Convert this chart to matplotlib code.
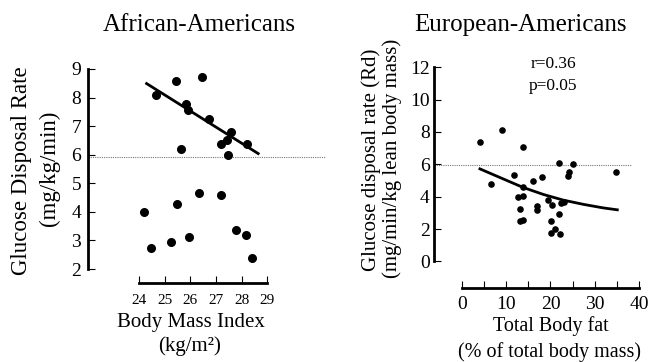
import matplotlib
matplotlib.use('Agg')
import matplotlib.pyplot as plt
import numpy as np

plt.rcParams['font.family'] = ['Liberation Serif', 'DejaVu Serif']

# African-Americans: BMI vs glucose disposal rate
aa_bmi = [24.64, 25.44, 26.45, 25.84, 25.91, 26.74, 27.60, 27.43, 27.18, 28.23, 25.62, 27.48,
          24.17, 25.48, 26.32, 27.18, 24.46, 25.25, 25.93, 27.79, 28.19, 28.41]
aa_gdr = [8.08, 8.57, 8.73, 7.78, 7.57, 7.25, 6.81, 6.50, 6.39, 6.38, 6.19, 5.98,
          4.01, 4.29, 4.66, 4.60, 2.75, 2.95, 3.13, 3.35, 3.19, 2.40]
aa_fit_x = [24.29, 28.65]
aa_fit_y = [8.49, 6.04]
aa_cutoff = 5.92

# European-Americans: total body fat vs Rd
ea_fat = [4.07, 9.04, 13.8, 6.48, 11.68, 13.71, 15.97, 18.15, 21.9, 25.16, 24.1, 23.95, 34.8,
          12.73, 13.8, 13.1, 17.0, 17.0, 19.5, 20.3, 22.4, 23.05, 21.85, 13.18, 13.8,
          20.18, 20.18, 21.1, 22.2]
ea_rd = [7.41, 8.14, 7.08, 4.79, 5.34, 4.59, 4.99, 5.22, 6.07, 6.01, 5.54, 5.26, 5.52,
         3.98, 4.06, 3.27, 3.45, 3.17, 3.82, 3.51, 3.59, 3.69, 2.96, 2.48, 2.58,
         2.52, 1.78, 1.99, 1.69]
ea_fit_x = [4.07, 9.33, 13.85, 18.4, 22.9, 27.4, 31.9, 35.1]
ea_fit_y = [5.72, 5.10, 4.57, 4.14, 3.79, 3.53, 3.31, 3.19]
ea_cutoff = 5.95

W, H = 651, 362
fig = plt.figure(figsize=(W / 100, H / 100), dpi=100)


def box(x0, x1, ytop, ybot):
    # pixel box -> figure fraction
    return [x0 / W, 1 - ybot / H, (x1 - x0) / W, (ybot - ytop) / H]


def style(ax):
    for s in ['top', 'right']:
        ax.spines[s].set_visible(False)
    ax.spines['left'].set_linewidth(2)
    ax.spines['bottom'].set_linewidth(2)
    ax.tick_params(direction='in', width=0.8, length=5, colors='black')
    ax.tick_params(which='minor', direction='in', width=0.8, length=5)


# left panel
ax1 = fig.add_axes(box(88, 326, 69, 283))
ax1.scatter(aa_bmi, aa_gdr, s=30, color='black', zorder=3)
ax1.plot(aa_fit_x, aa_fit_y, color='black', lw=2)
ax1.axhline(aa_cutoff, color='#777777', lw=0.8, ls=(0, (1, 1)))
ax1.set_xlim(22.0, 31.3)
ax1.set_ylim(1.51, 9.0)
ax1.spines['left'].set_bounds(2, 9)
ax1.spines['bottom'].set_bounds(24, 29)
ax1.set_xticks([24, 25, 26, 27, 28, 29])
ax1.set_yticks([2, 3, 4, 5, 6, 7, 8, 9])
style(ax1)
ax1.tick_params(axis='x', labelsize=11, pad=8)
ax1.tick_params(axis='y', labelsize=14, pad=5)

# right panel
ax2 = fig.add_axes(box(434, 639, 64, 288))
ax2.scatter(ea_fat, ea_rd, s=14, color='black', zorder=3)
ax2.plot(ea_fit_x, ea_fit_y, color='black', lw=2)
ax2.axhline(ea_cutoff, xmax=0.96, color='#777777', lw=0.8, ls=(0, (1, 1)))
ax2.set_xlim(-6.3, 40)
ax2.set_ylim(-1.64, 12.2)
ax2.spines['left'].set_bounds(0, 12)
ax2.spines['bottom'].set_bounds(0, 40)
ax2.set_xticks([0, 10, 20, 30, 40])
ax2.set_xticks([5, 15, 25, 35], minor=True)
ax2.set_yticks([0, 2, 4, 6, 8, 10, 12])
style(ax2)
ax2.tick_params(axis='x', labelsize=14, pad=6)
ax2.tick_params(axis='y', labelsize=14, pad=3)
ax2.text(20.6, 12.2, 'r=0.36', ha='center', va='center', fontsize=12.5)
ax2.text(20.6, 10.85, 'p=0.05', ha='center', va='center', fontsize=12.5)

# titles and axis labels
fig.text(199 / W, 1 - 25 / H, 'African-Americans', ha='center', va='center', fontsize=18)
fig.text(520 / W, 1 - 25 / H, 'European-Americans', ha='center', va='center', fontsize=18)

fig.text(191 / W, 1 - 322 / H, 'Body Mass Index', ha='center', va='center', fontsize=15)
fig.text(190 / W, 1 - 346 / H, '(kg/m²)', ha='center', va='center', fontsize=15)
fig.text(551 / W, 1 - 326 / H, 'Total Body fat', ha='center', va='center', fontsize=14.5)
fig.text(550 / W, 1 - 352 / H, '(% of total body mass)', ha='center', va='center', fontsize=14.5)

fig.text(22 / W, 1 - 171 / H, 'Glucose Disposal Rate', ha='center', va='center',
         rotation=90, fontsize=16.5)
fig.text(49 / W, 1 - 168 / H, '(mg/kg/min)', ha='center', va='center',
         rotation=90, fontsize=16.5)
fig.text(371 / W, 1 - 160 / H, 'Glucose disposal rate (Rd)', ha='center', va='center',
         rotation=90, fontsize=15)
fig.text(392 / W, 1 - 158 / H, '(mg/min/kg lean body mass)', ha='center', va='center',
         rotation=90, fontsize=15)

fig.savefig('out.png', dpi=100)
